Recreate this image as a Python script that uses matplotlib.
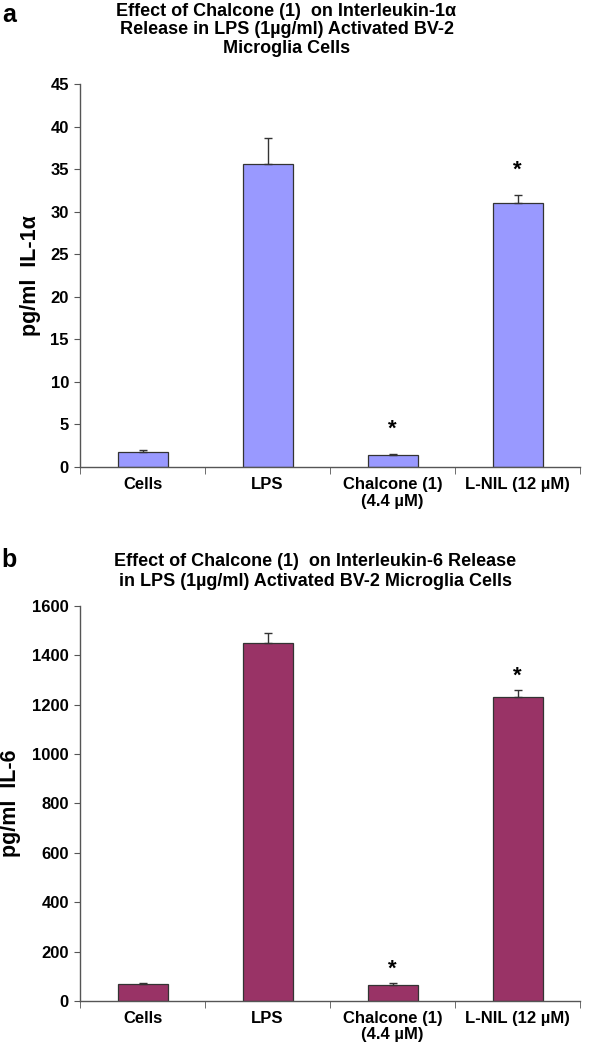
import numpy as np
import matplotlib.pyplot as plt

plt.rcParams['font.family'] = ['Liberation Sans', 'DejaVu Sans']
plt.rcParams['font.weight'] = 'bold'

groups = ["Cells", "LPS", "Chalcone (1)\n(4.4 \u00b5M)", "L-NIL (12 \u00b5M)"]

il1_vals = [1.8, 35.6, 1.4, 31.0]
il1_err = [0.15, 3.0, 0.15, 1.0]
il1_sig = [False, False, True, True]

il6_vals = [67, 1450, 65, 1232]
il6_err = [4, 42, 8, 28]
il6_sig = [False, False, True, True]

fig = plt.figure(figsize=(5.97, 10.5), dpi=100)
ax1 = fig.add_axes([0.134, 0.5552, 0.838, 0.3648])
ax2 = fig.add_axes([0.134, 0.0467, 0.838, 0.3762])


def draw(ax, vals, errs, sig, color, ymax, step, ylabel, star_off, label_x):
    x = np.arange(len(groups))
    ax.bar(x, vals, width=0.4, color=color, edgecolor='#333333', linewidth=0.9, zorder=2)
    ax.errorbar(x, vals, yerr=[np.zeros(len(errs)), errs], fmt='none',
                ecolor='#333333', elinewidth=1.0, capsize=3, capthick=1.0, zorder=3)
    for i in range(len(vals)):
        if sig[i]:
            ax.annotate('*', (x[i], vals[i] + errs[i]), xytext=(0, star_off),
                        textcoords='offset points', ha='center', va='bottom',
                        fontsize=16, fontweight='bold')
    ax.set_xlim(-0.5, len(groups) - 0.5)
    ax.set_ylim(0, ymax)
    ax.set_yticks(np.arange(0, ymax + step / 2, step))
    ax.set_xticks(x)
    ax.set_xticklabels(groups, fontsize=12, fontweight='bold', linespacing=1.15)
    ax.set_xticks(np.arange(-0.5, len(groups)), minor=True)
    ax.tick_params(axis='x', which='major', length=0, pad=7)
    ax.tick_params(axis='x', which='minor', length=5, direction='out', color='#555555')
    ax.tick_params(axis='y', length=4, direction='out', color='#555555', labelsize=12, pad=4)
    for lab in ax.get_yticklabels():
        lab.set_fontweight('bold')
    for s in ['top', 'right']:
        ax.spines[s].set_visible(False)
    for s in ['left', 'bottom']:
        ax.spines[s].set_color('#555555')
        ax.spines[s].set_linewidth(1.0)
    ax.set_ylabel(ylabel, fontsize=15.5, fontweight='bold')
    ax.yaxis.set_label_coords(label_x, 0.5)


draw(ax1, il1_vals, il1_err, il1_sig, '#9999FF', 45, 5, 'pg/ml  IL-1\u03b1', 10, -0.078)
draw(ax2, il6_vals, il6_err, il6_sig, '#993366', 1600, 200, 'pg/ml  IL-6', 2, -0.118)

fig.text(0.48, 0.997, "Effect of Chalcone (1)  on Interleukin-1\u03b1\nRelease in LPS (1\u00b5g/ml) Activated BV-2\nMicroglia Cells",
         ha='center', va='top', fontsize=13, fontweight='bold', linespacing=1.1)
fig.text(0.003, 0.997, "a", ha='left', va='top', fontsize=18, fontweight='bold')

fig.text(0.528, 0.473, "Effect of Chalcone (1)  on Interleukin-6 Release\nin LPS (1\u00b5g/ml) Activated BV-2 Microglia Cells",
         ha='center', va='top', fontsize=13, fontweight='bold', linespacing=1.2)
fig.text(0.003, 0.478, "b", ha='left', va='top', fontsize=18, fontweight='bold')

fig.savefig('out.png', dpi=100)
